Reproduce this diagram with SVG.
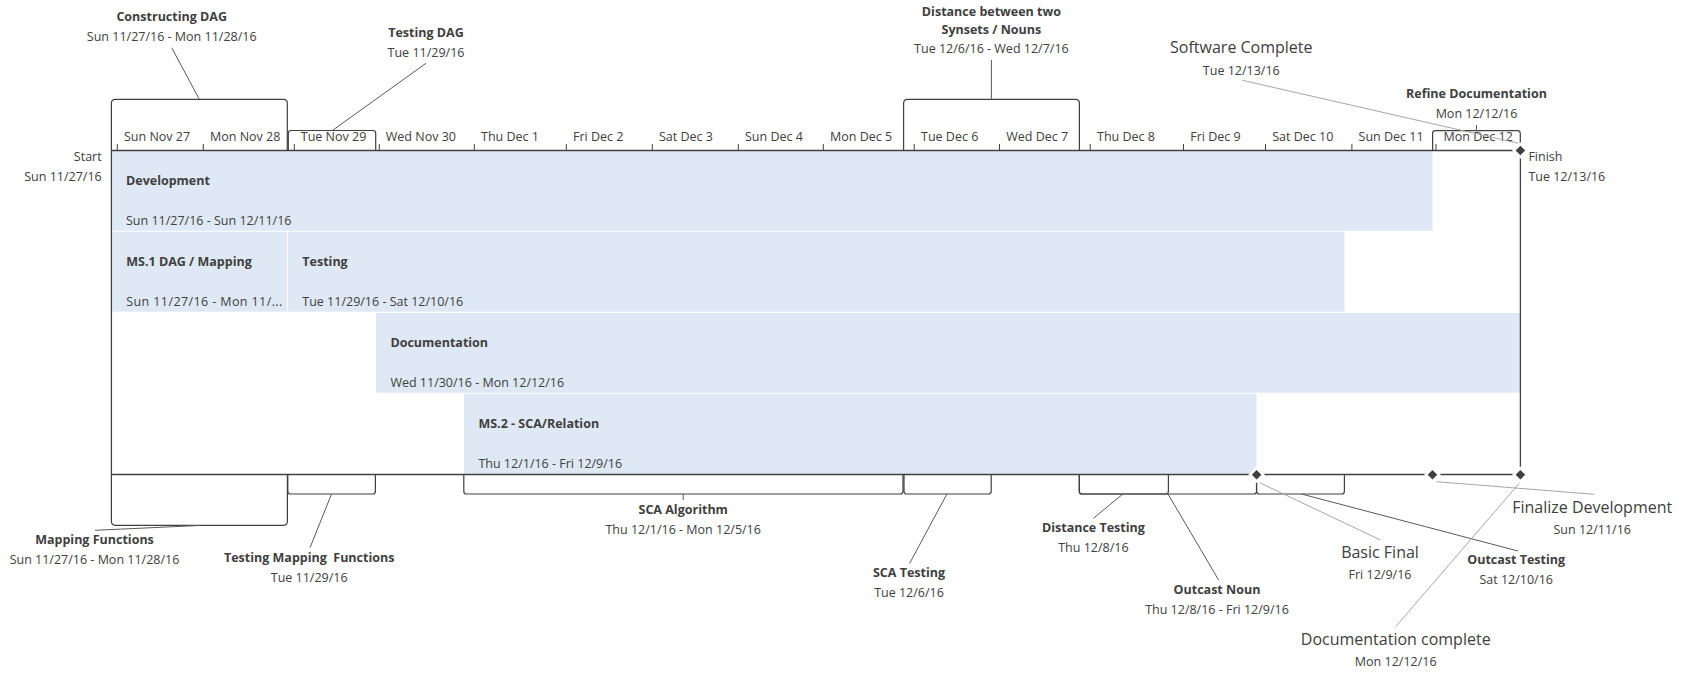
<svg xmlns="http://www.w3.org/2000/svg" width="1696" height="674" viewBox="0 0 1696 674">
<style>
text{font-family:"Open Sans","Noto Sans","Liberation Sans",sans-serif;fill:#404040}
.t{font-size:12.5px}
.b{font-size:12.5px;font-weight:bold}
.L{font-size:16px}
.m{text-anchor:middle}
.e{text-anchor:end}
.bar{fill:#dfe9f5}
.ax{stroke:#404040;stroke-width:1.3;fill:none}
.bx{stroke:#404040;stroke-width:1.2;fill:none}
.tk{stroke:#404040;stroke-width:1}
.cd{stroke:#5a5a5a;stroke-width:1;fill:none}
.cl{stroke:#a6a6a6;stroke-width:1;fill:none}
.dia{fill:#404040;stroke:#fff;stroke-width:5;paint-order:stroke}
</style>
<defs>
<path id="dm" d="M0,-4.8 L4.8,0 L0,4.8 L-4.8,0 Z"/>
</defs>
<rect width="1696" height="674" fill="#fff"/>

<!-- task bars -->
<g id="task-development">
<rect class="bar" x="111.5" y="151.2" width="1321" height="79.5"/>
<text class="b" x="126" y="185">Development</text>
<text class="t" x="126" y="225">Sun 11/27/16 - Sun 12/11/16</text>
</g>
<g id="task-ms1">
<rect class="bar" x="111.5" y="231.7" width="175.5" height="80"/>
<text class="b" x="126.3" y="266.3">MS.1 DAG / Mapping</text>
<text class="t" x="126.3" y="306.3" textLength="156" lengthAdjust="spacing">Sun 11/27/16 - Mon 11/...</text>
</g>
<g id="task-testing">
<rect class="bar" x="288" y="231.7" width="1056.5" height="80"/>
<text class="b" x="302.3" y="266.3">Testing</text>
<text class="t" x="302.3" y="306.3">Tue 11/29/16 - Sat 12/10/16</text>
</g>
<g id="task-documentation">
<rect class="bar" x="376" y="313" width="1144.5" height="79.7"/>
<text class="b" x="390.4" y="347">Documentation</text>
<text class="t" x="390.4" y="387.3">Wed 11/30/16 - Mon 12/12/16</text>
</g>
<g id="task-ms2">
<rect class="bar" x="464" y="393.7" width="792.5" height="80.5"/>
<text class="b" x="478.4" y="428">MS.2 - SCA/Relation</text>
<text class="t" x="478.4" y="468">Thu 12/1/16 - Fri 12/9/16</text>
</g>

<!-- timeline axes and day scale -->
<g id="timeline">
<line class="ax" x1="111.4" y1="150.5" x2="1517" y2="150.5"/>
<line class="ax" x1="111.4" y1="474.5" x2="1514" y2="474.5"/>
<line class="ax" x1="111.4" y1="150" x2="111.4" y2="475"/>
<line class="ax" x1="1520.4" y1="152" x2="1520.4" y2="470"/>
<g class="tk">
<line x1="117.3" y1="144" x2="117.3" y2="150.5"/>
<line x1="203.3" y1="144" x2="203.3" y2="150.5"/>
<line x1="294.3" y1="144" x2="294.3" y2="150.5"/>
<line x1="379.3" y1="144" x2="379.3" y2="150.5"/>
<line x1="474.3" y1="144" x2="474.3" y2="150.5"/>
<line x1="566.3" y1="144" x2="566.3" y2="150.5"/>
<line x1="652.3" y1="144" x2="652.3" y2="150.5"/>
<line x1="738.3" y1="144" x2="738.3" y2="150.5"/>
<line x1="823.3" y1="144" x2="823.3" y2="150.5"/>
<line x1="914.2" y1="144" x2="914.2" y2="150.5"/>
<line x1="999.5" y1="144" x2="999.5" y2="150.5"/>
<line x1="1090.2" y1="144" x2="1090.2" y2="150.5"/>
<line x1="1183.5" y1="144" x2="1183.5" y2="150.5"/>
<line x1="1265.5" y1="144" x2="1265.5" y2="150.5"/>
<line x1="1351.9" y1="144" x2="1351.9" y2="150.5"/>
<line x1="1436" y1="144" x2="1436" y2="150.5"/>
</g>
<text class="t" x="124" y="141.3">Sun Nov 27</text>
<text class="t" x="210" y="141.3">Mon Nov 28</text>
<text class="t" x="300.8" y="141.3">Tue Nov 29</text>
<text class="t" x="385.8" y="141.3">Wed Nov 30</text>
<text class="t" x="481" y="141.3">Thu Dec 1</text>
<text class="t" x="573" y="141.3">Fri Dec 2</text>
<text class="t" x="659" y="141.3">Sat Dec 3</text>
<text class="t" x="745" y="141.3">Sun Dec 4</text>
<text class="t" x="830" y="141.3">Mon Dec 5</text>
<text class="t" x="921" y="141.3">Tue Dec 6</text>
<text class="t" x="1006.2" y="141.3">Wed Dec 7</text>
<text class="t" x="1097" y="141.3">Thu Dec 8</text>
<text class="t" x="1190.2" y="141.3">Fri Dec 9</text>
<text class="t" x="1272.2" y="141.3">Sat Dec 10</text>
<text class="t" x="1358.6" y="141.3">Sun Dec 11</text>
<text class="t" x="1443.5" y="141.3">Mon Dec 12</text>
<text class="t e" x="101.7" y="160.7">Start</text>
<text class="t e" x="101.7" y="180.7">Sun 11/27/16</text>
</g>

<!-- callouts above -->
<g id="callout-constructing-dag">
<path class="bx" d="M111.4,150.5 V103.3 Q111.4,99.3 115.4,99.3 H283.3 Q287.3,99.3 287.3,103.3 V150.5"/>
<text class="b m" x="171.7" y="20.7">Constructing DAG</text>
<text class="t m" x="171.7" y="40.7">Sun 11/27/16 - Mon 11/28/16</text>
</g>
<g id="callout-testing-dag">
<path class="bx" d="M288.3,150.5 V133.3 Q288.3,130.5 291.1,130.5 H372.9 Q375.7,130.5 375.7,133.3 V150.5"/>
<text class="b m" x="426" y="36.7">Testing DAG</text>
<text class="t m" x="426" y="57">Tue 11/29/16</text>
</g>
<g id="callout-distance">
<path class="bx" d="M903.6,150.5 V103.3 Q903.6,99.3 907.6,99.3 H1075.4 Q1079.4,99.3 1079.4,103.3 V150.5"/>
<text class="b m" x="991.4" y="16.3">Distance between two</text>
<text class="b m" x="991.4" y="34.3">Synsets / Nouns</text>
<text class="t m" x="991.4" y="53.3">Tue 12/6/16 - Wed 12/7/16</text>
</g>
<g id="callout-refine-documentation">
<path class="bx" d="M1432.6,150.5 V133.5 Q1432.6,130.7 1435.4,130.7 H1517.5 Q1520.3,130.7 1520.3,133.5 V146"/>
<text class="b m" x="1476.5" y="97.8">Refine Documentation</text>
<text class="t m" x="1476.5" y="118.4">Mon 12/12/16</text>
</g>
<g id="milestone-software-complete">
<text class="L m" x="1241.3" y="53.3">Software Complete</text>
<text class="t m" x="1241.3" y="74.7">Tue 12/13/16</text>
</g>

<!-- callouts below -->
<g id="callout-mapping-functions">
<path class="bx" d="M111.4,474.5 V521.3 Q111.4,525.3 115.4,525.3 H283.4 Q287.4,525.3 287.4,521.3 V474.5"/>
<text class="b m" x="94.5" y="544">Mapping Functions</text>
<text class="t m" x="94.5" y="564">Sun 11/27/16 - Mon 11/28/16</text>
</g>
<g id="callout-testing-mapping">
<path class="bx" d="M287.8,474.5 V491.2 Q287.8,494 290.6,494 H372.6 Q375.4,494 375.4,491.2 V474.5"/>
<text class="b m" x="309.2" y="562" xml:space="preserve">Testing Mapping  Functions</text>
<text class="t m" x="309.2" y="582">Tue 11/29/16</text>
</g>
<g id="callout-sca-algorithm">
<path class="bx" d="M463.8,474.5 V491.2 Q463.8,494 466.6,494 H900.2 Q903,494 903,491.2 V474.5"/>
<text class="b m" x="683.2" y="514">SCA Algorithm</text>
<text class="t m" x="683.2" y="534">Thu 12/1/16 - Mon 12/5/16</text>
</g>
<g id="callout-sca-testing">
<path class="bx" d="M904,474.5 V491.2 Q904,494 906.8,494 H988.4 Q991.2,494 991.2,491.2 V474.5"/>
<text class="b m" x="909" y="577.4">SCA Testing</text>
<text class="t m" x="909" y="597.4">Tue 12/6/16</text>
</g>
<g id="callout-distance-testing">
<path class="bx" d="M1079.3,474.5 V491.2 Q1079.3,494 1082.1,494 H1165.6 Q1168.4,494 1168.4,491.2 V474.5"/>
<text class="b m" x="1093.4" y="532">Distance Testing</text>
<text class="t m" x="1093.4" y="552">Thu 12/8/16</text>
</g>
<g id="callout-outcast-noun">
<path class="bx" d="M1079.3,474.5 V491.2 Q1079.3,494 1082.1,494 H1253.7 Q1256.5,494 1256.5,491.2 V474.5"/>
<text class="b m" x="1217" y="593.7">Outcast Noun</text>
<text class="t m" x="1217" y="614">Thu 12/8/16 - Fri 12/9/16</text>
</g>
<g id="callout-outcast-testing">
<path class="bx" d="M1256.6,474.5 V491.2 Q1256.6,494 1259.4,494 H1341.6 Q1344.4,494 1344.4,491.2 V474.5"/>
<text class="b m" x="1516.2" y="563.7">Outcast Testing</text>
<text class="t m" x="1516.2" y="584">Sat 12/10/16</text>
</g>

<!-- connectors -->
<g id="connectors">
<line class="cd" x1="171.7" y1="47.7" x2="199.3" y2="99.3"/>
<line class="cd" x1="426" y1="63.3" x2="332.3" y2="130.5"/>
<line class="cd" x1="991.4" y1="60" x2="991.4" y2="99.3"/>
<line class="cl" x1="1242.3" y1="80.3" x2="1518.3" y2="143.3"/>
<line class="cd" x1="1476.5" y1="125" x2="1476.5" y2="130.7"/>
<line class="cd" x1="95" y1="530.3" x2="199" y2="525.5"/>
<line class="cd" x1="331.4" y1="494.3" x2="310" y2="547.7"/>
<line class="cd" x1="683.2" y1="494" x2="683.2" y2="500"/>
<line class="cd" x1="946.9" y1="494" x2="909.7" y2="563.3"/>
<line class="cd" x1="1122.9" y1="494" x2="1093.4" y2="518.3"/>
<line class="cd" x1="1167.7" y1="493.5" x2="1218.6" y2="580"/>
<line class="cd" x1="1301.4" y1="494" x2="1518" y2="551"/>
<line class="cl" x1="1259.6" y1="482.7" x2="1380.5" y2="540"/>
<line class="cl" x1="1436.4" y1="481.7" x2="1594.1" y2="494.3"/>
<line class="cl" x1="1519.2" y1="483.3" x2="1395.7" y2="626.7"/>
</g>

<!-- milestones -->
<g id="milestone-finish">
<use href="#dm" class="dia" x="1520.4" y="150.5"/>
<text class="t" x="1528.4" y="161">Finish</text>
<text class="t" x="1528.4" y="180.7">Tue 12/13/16</text>
</g>
<g id="milestone-basic-final">
<use href="#dm" class="dia" x="1256.6" y="474.7"/>
<text class="L m" x="1380" y="558">Basic Final</text>
<text class="t m" x="1380" y="579">Fri 12/9/16</text>
</g>
<g id="milestone-finalize-development">
<use href="#dm" class="dia" x="1432.5" y="474.7"/>
<text class="L m" x="1592.2" y="513.4">Finalize Development</text>
<text class="t m" x="1592.2" y="534">Sun 12/11/16</text>
</g>
<g id="milestone-documentation-complete">
<use href="#dm" class="dia" x="1520.4" y="474.7"/>
<text class="L m" x="1395.7" y="645">Documentation complete</text>
<text class="t m" x="1395.7" y="665.7">Mon 12/12/16</text>
</g>
</svg>
